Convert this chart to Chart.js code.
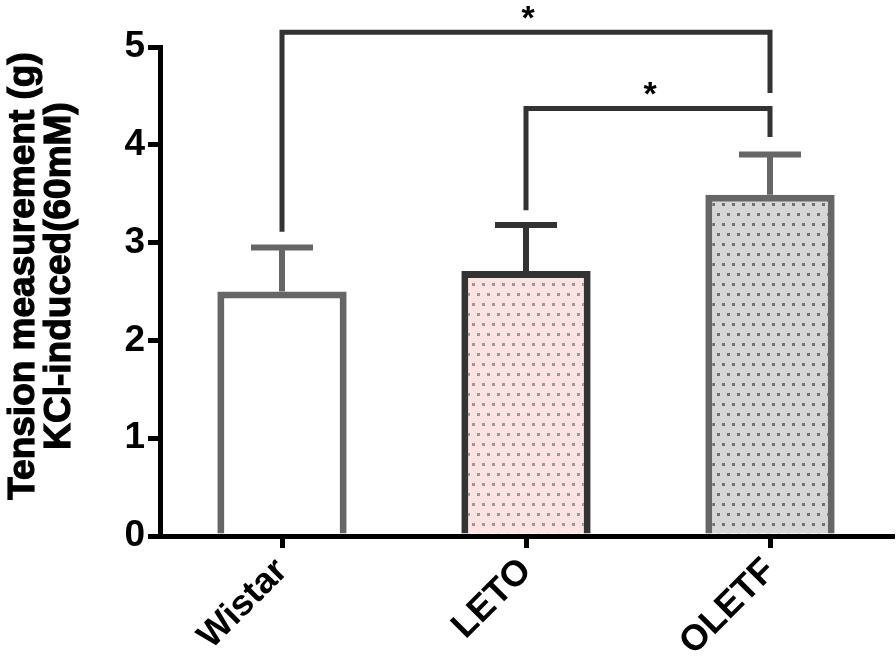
<!DOCTYPE html>
<html>
<head>
<meta charset="utf-8">
<script src="https://cdn.jsdelivr.net/npm/chart.js@4.4.1/dist/chart.umd.min.js"></script>
<style>
  html, body { margin:0; padding:0; background:#fff; }
  #wrap { width:896px; height:660px; }
</style>
</head>
<body>
<div id="wrap"><canvas id="chart" width="896" height="660"></canvas></div>
<script>
// ---- Datos
const categories = ['Wistar', 'LETO', 'OLETF'];
const means = [2.5, 2.71, 3.49];
const errTop = [2.95, 3.18, 3.90];
const yTicks = [0, 1, 2, 3, 4, 5];
const yTitle = ['Tension measurement (g)', 'KCl-induced(60mM)'];
// brackets: [from, to, top, leftEnd, rightEnd]
const bracketFrom = [0, 1];
const bracketTo = [2, 2];
const bracketTop = [5.15, 4.37];
const bracketLeftEnd = [3.11, 3.33];
const bracketRightEnd = [4.53, 4.08];
const bracketLabel = ['*', '*'];

// ---- Colores
const borderCols = ['#666666', '#333333', '#666666'];

function dotPattern(bg, dot){
  const c = document.createElement('canvas');
  c.width = 10; c.height = 20;
  const g = c.getContext('2d');
  g.fillStyle = bg; g.fillRect(0, 0, 10, 20);
  g.fillStyle = dot;
  g.fillRect(2, 3, 3, 3);
  g.fillRect(7, 13, 3, 3);
  return g.createPattern(c, 'repeat');
}
const ctx = document.getElementById('chart').getContext('2d');
const fills = ['#ffffff', dotPattern('#fde3e3', '#a09696'), dotPattern('#d6d6d6', '#707070')];

const FONT = '"Liberation Sans", Arial, sans-serif';

// ---- Plugin: barras de error, corchetes, titulo eje Y
const extras = {
  id: 'extras',
  beforeDatasetsDraw(chart){
    const c = chart.ctx, x = chart.scales.x, y = chart.scales.y;
    c.save();
    means.forEach((m, i) => {
      const px = x.getPixelForValue(i);
      c.strokeStyle = borderCols[i];
      c.lineWidth = 6;
      c.beginPath();
      c.moveTo(px, y.getPixelForValue(m));
      c.lineTo(px, y.getPixelForValue(errTop[i]));
      c.moveTo(px - 31, y.getPixelForValue(errTop[i]));
      c.lineTo(px + 31, y.getPixelForValue(errTop[i]));
      c.stroke();
    });
    c.restore();
  },
  afterDraw(chart){
    const c = chart.ctx, x = chart.scales.x, y = chart.scales.y;
    c.save();
    bracketFrom.forEach((f, i) => {
      const x1 = x.getPixelForValue(f), x2 = x.getPixelForValue(bracketTo[i]);
      const yt = y.getPixelForValue(bracketTop[i]);
      c.strokeStyle = '#333333';
      c.lineWidth = 5;
      c.lineJoin = 'miter';
      c.beginPath();
      c.moveTo(x1, y.getPixelForValue(bracketLeftEnd[i]));
      c.lineTo(x1, yt);
      c.lineTo(x2, yt);
      c.lineTo(x2, y.getPixelForValue(bracketRightEnd[i]));
      c.stroke();
      c.fillStyle = '#000';
      c.font = 'bold 34px ' + FONT;
      c.textAlign = 'center';
      c.textBaseline = 'middle';
      c.fillText(bracketLabel[i], (x1 + x2) / 2 + 2, yt - 13);
    });
    // titulo eje Y
    c.translate(42, 276);
    c.rotate(-Math.PI / 2);
    c.fillStyle = '#000';
    c.strokeStyle = '#000';
    c.lineWidth = 1.2;
    c.font = 'bold 37px ' + FONT;
    c.textAlign = 'center';
    c.textBaseline = 'middle';
    c.fillText(yTitle[0], 0, -18);
    c.strokeText(yTitle[0], 0, -18);
    c.fillText(yTitle[1], 0, 18);
    c.strokeText(yTitle[1], 0, 18);
    c.restore();
  }
};

new Chart(ctx, {
  type: 'bar',
  data: {
    labels: categories,
    datasets: [{
      data: means,
      backgroundColor: fills,
      borderColor: borderCols,
      borderWidth: 7,
      borderSkipped: 'bottom',
      categoryPercentage: 1,
      barPercentage: 0.53
    }]
  },
  options: {
    responsive: false,
    animation: false,
    layout: { padding: { top: 47, right: 4 } },
    plugins: { legend: { display: false }, tooltip: { enabled: false } },
    scales: {
      x: {
        grid: { display: true, drawOnChartArea: false, color: '#000', lineWidth: 5, tickLength: 12, offset: false },
        border: { color: '#000', width: 5 },
        ticks: { color: '#000', font: { family: FONT, size: 36, weight: 'bold' }, maxRotation: 45, minRotation: 45, padding: 2 },
        afterFit: s => { s.height = 124; }
      },
      y: {
        min: 0, max: 5,
        afterBuildTicks: s => { s.ticks = yTicks.map(v => ({ value: v })); },
        grid: { drawOnChartArea: false, color: '#000', lineWidth: 5, tickLength: 12 },
        border: { color: '#000', width: 5 },
        ticks: { color: '#000', font: { family: FONT, size: 37, weight: 'bold' }, padding: 3 },
        afterFit: s => { s.width = 160; }
      }
    }
  },
  plugins: [extras]
});
</script>
</body>
</html>
